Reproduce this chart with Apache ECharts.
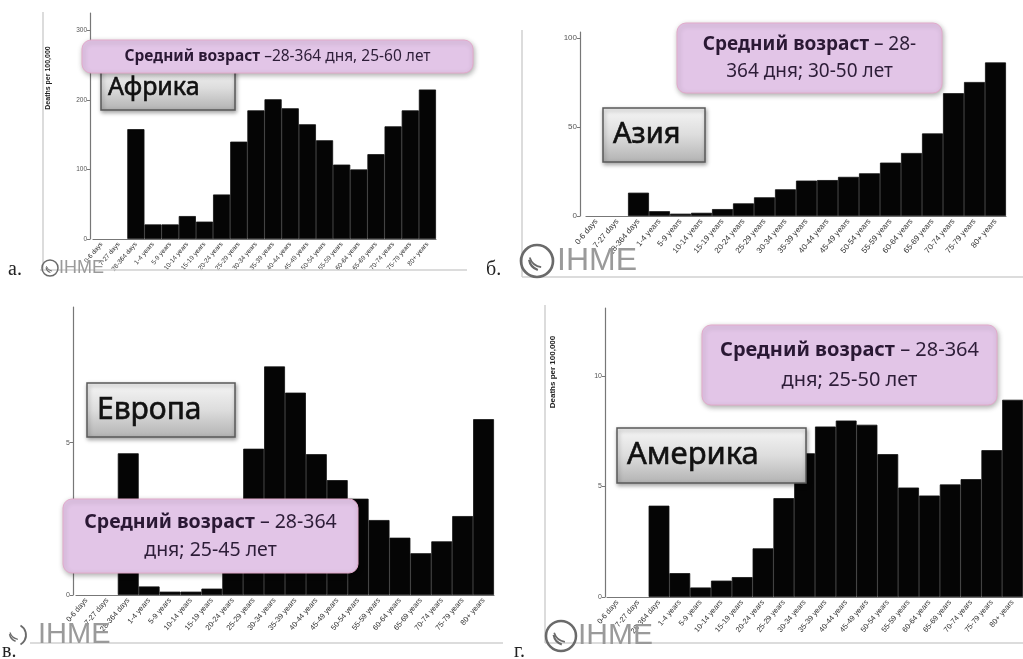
<!DOCTYPE html>
<html>
<head>
<meta charset="utf-8">
<script src="https://cdn.jsdelivr.net/npm/echarts@6/dist/echarts.min.js"></script>
<style>
html, body { margin: 0; padding: 0; background: #fff; }
#chart { width: 1023px; height: 659px; }
</style>
</head>
<body>
<div id="chart"></div>
<script>
// age groups shared by all four panels
const ageGroups = ['0-6 days', '7-27 days', '28-364 days', '1-4 years', '5-9 years', '10-14 years',
    '15-19 years', '20-24 years', '25-29 years', '30-34 years', '35-39 years', '40-44 years',
    '45-49 years', '50-54 years', '55-59 years', '60-64 years', '65-69 years', '70-74 years',
    '75-79 years', '80+ years']

// deaths per 100,000
const africa = [0, 0, 158, 21, 21, 33, 25, 64, 140, 185, 201, 188, 165, 142, 107, 100, 122, 162, 185, 215]
const asia = [0, 0, 13.1, 2.7, 1.3, 1.8, 3.9, 7.1, 10.5, 15, 19.9, 20.2, 22, 24, 30, 35.4, 46.4, 69, 75.3, 86.3]
const europe = [0, 0, 4.65, 0.28, 0.11, 0.11, 0.21, 1.5, 4.8, 7.5, 6.64, 4.62, 3.77, 3.16, 2.46, 1.88, 1.37, 1.76, 2.59, 5.77]
const america = [0, 0, 4.13, 1.08, 0.43, 0.74, 0.9, 2.2, 4.47, 6.5, 7.71, 7.98, 7.79, 6.46, 4.95, 4.59, 5.09, 5.33, 6.64, 8.92]

// y tick labels per panel
const africaTicks = [0, 100, 200, 300]
const asiaTicks = [0, 50, 100]
const europeTicks = [0, 5]
const americaTicks = [0, 5, 10]

const regionNames = ['Африка', 'Азия', 'Европа', 'Америка']
const noteTexts = [
    '{b|Средний возраст} –28-364 дня, 25-60 лет',
    '{b|Средний возраст} – 28-\n364 дня; 30-50 лет',
    '{b|Средний возраст} – 28-364\nдня; 25-45 лет',
    '{b|Средний возраст} – 28-364\nдня; 25-50 лет',
]
const panelLetters = ['а.', 'б.', 'в.', 'г.']
const yName = 'Deaths per 100,000'

const SANS = '"Noto Sans", "DejaVu Sans", sans-serif'

function xAxisFor(gridIndex, fontSize) {
    return {
        type: 'category',
        gridIndex: gridIndex,
        data: ageGroups,
        axisLine: { lineStyle: { color: '#777', width: 1.2 } },
        axisTick: { interval: 0, length: 3, lineStyle: { color: '#777' } },
        axisLabel: {
            interval: 0,
            rotate: 50,
            margin: 4,
            fontSize: fontSize,
            color: '#333',
            fontFamily: 'Liberation Sans',
        },
    }
}

function yAxisFor(gridIndex, max, ticks, fontSize, offset) {
    return {
        type: 'value',
        gridIndex: gridIndex,
        min: 0,
        max: max,
        offset: offset,
        splitLine: { show: false },
        axisLine: { show: true, lineStyle: { color: '#777', width: 1.2 } },
        axisTick: { show: true, length: 3, customValues: ticks, lineStyle: { color: '#777' } },
        axisLabel: { customValues: ticks, fontSize: fontSize, color: '#555', margin: 3, fontFamily: 'Liberation Sans' },
    }
}

function barSeries(index, data) {
    return {
        type: 'bar',
        xAxisIndex: index,
        yAxisIndex: index,
        // no outline on empty age groups
        data: data.map((v) => (v === 0 ? { value: v, itemStyle: { borderWidth: 0 } } : v)),
        barCategoryGap: '0%',
        itemStyle: { color: '#050505', borderColor: '#111', borderWidth: 0.8 },
        silent: true,
    }
}

function frameLine(x1, y1, x2, y2) {
    return {
        type: 'line',
        z: 1,
        shape: { x1: x1, y1: y1, x2: x2, y2: y2 },
        style: { stroke: '#d0d0d0', lineWidth: 1.5 },
    }
}

function noteBox(x, y, w, h, text, fontSize, lineHeight) {
    return [
        {
            type: 'rect',
            z: 110,
            shape: { x: x, y: y, width: w, height: h, r: 9 },
            style: {
                fill: '#e2c5e7',
                stroke: '#e3aacb',
                lineWidth: 1,
                shadowBlur: 5,
                shadowColor: 'rgba(0,0,0,0.3)',
                shadowOffsetX: 1,
                shadowOffsetY: 2,
            },
        },
        {
            type: 'text',
            z: 111,
            x: x + w / 2,
            y: y + h / 2,
            style: {
                text: text,
                align: 'center',
                verticalAlign: 'middle',
                fontFamily: SANS,
                fontSize: fontSize,
                lineHeight: lineHeight,
                fill: '#2d1d38',
                rich: {
                    b: { fontWeight: 'bold', fontFamily: SANS, fontSize: fontSize, lineHeight: lineHeight, fill: '#2a1834' },
                },
            },
        },
    ]
}

function regionBox(x, y, w, h, textX, text, fontSize) {
    return [
        {
            type: 'rect',
            z: 105,
            shape: { x: x, y: y, width: w, height: h },
            style: {
                fill: {
                    type: 'linear', x: 0, y: 0, x2: 0, y2: 1,
                    colorStops: [
                        { offset: 0, color: '#f6f6f6' },
                        { offset: 0.5, color: '#dddddd' },
                        { offset: 1, color: '#b2b2b2' },
                    ],
                },
                stroke: '#5a5a5a',
                lineWidth: 1.5,
                shadowBlur: 4,
                shadowColor: 'rgba(0,0,0,0.35)',
                shadowOffsetX: 1,
                shadowOffsetY: 2,
            },
        },
        {
            type: 'text',
            z: 106,
            x: textX,
            y: y + h / 2,
            style: {
                text: text,
                verticalAlign: 'middle',
                fontFamily: SANS,
                fontSize: fontSize,
                fill: '#111',
                stroke: '#111',
                lineWidth: 0.6,
            },
        },
    ]
}

function logo(cx, cy, r, textX, fontSize, startAngle, endAngle) {
    return [
        {
            type: 'arc',
            z: 2,
            shape: { cx: cx, cy: cy, r: r, startAngle: startAngle, endAngle: endAngle },
            style: { stroke: '#6a6a6a', lineWidth: Math.max(1.5, r / 6), fill: null },
        },
        {
            type: 'arc',
            z: 2,
            shape: { cx: cx + r * 0.3, cy: cy - r * 0.2, r: r * 0.8, startAngle: Math.PI * 0.6, endAngle: Math.PI * 0.95 },
            style: { stroke: '#6a6a6a', lineWidth: Math.max(1.2, r / 7), fill: null },
        },
        {
            type: 'arc',
            z: 2,
            shape: { cx: cx + r * 0.4, cy: cy - r * 0.5, r: r * 0.9, startAngle: Math.PI * 0.55, endAngle: Math.PI * 0.9 },
            style: { stroke: '#6a6a6a', lineWidth: Math.max(1, r / 9), fill: null },
        },
        {
            type: 'text',
            z: 2,
            x: textX,
            y: cy,
            style: {
                text: 'IHME',
                verticalAlign: 'middle',
                fontFamily: 'Liberation Sans',
                fontSize: fontSize,
                fill: '#9a9a9a',
            },
        },
    ]
}

function panelLetter(x, y, text) {
    return {
        type: 'text',
        z: 2,
        x: x,
        y: y,
        style: { text: text, verticalAlign: 'bottom', fontFamily: 'Liberation Serif', fontSize: 20, fill: '#222' },
    }
}

function axisName(x, y, fontSize) {
    return {
        type: 'text',
        z: 2,
        x: x,
        y: y,
        rotation: Math.PI / 2,
        style: {
            text: yName,
            align: 'center',
            verticalAlign: 'middle',
            fontFamily: 'Liberation Sans',
            fontWeight: 'bold',
            fontSize: fontSize,
            fill: '#222',
        },
    }
}

let chart = echarts.init(document.getElementById('chart'))

let graphics = [].concat(
    // frames of the four pictures
    frameLine(43, 12, 43, 270), frameLine(40, 270, 467, 270),
    frameLine(522, 30, 522, 277), frameLine(522, 277, 1023, 277),
    frameLine(30, 643, 503, 643),
    frameLine(545, 305, 545, 643), frameLine(545, 643, 1023, 643),
    // logos
    logo(50, 268, 8, 59, 18, 0, Math.PI * 2),
    logo(537, 261, 16, 557, 32, 0, Math.PI * 2),
    logo(15, 635, 11, 38, 29, -Math.PI / 3, Math.PI / 3),
    logo(561, 636, 15, 578, 30, 0, Math.PI * 2),
    // panel letters
    panelLetter(8, 280, panelLetters[0]),
    panelLetter(486, 280, panelLetters[1]),
    panelLetter(2, 662, panelLetters[2]),
    panelLetter(514, 662, panelLetters[3]),
    // y axis names
    axisName(48, 78, 7),
    axisName(553, 372, 8),
    // region boxes
    regionBox(101, 66, 134, 44, 108, regionNames[0], 25),
    regionBox(603, 108, 102, 54, 613, regionNames[1], 29),
    regionBox(87, 383, 148, 54, 97, regionNames[2], 30),
    regionBox(617, 428, 189, 55, 627, regionNames[3], 31),
    // notes
    noteBox(82, 40, 391, 33, noteTexts[0], 15.5, 18),
    noteBox(677, 23, 265, 70, noteTexts[1], 19, 27),
    noteBox(63, 499, 295, 74, noteTexts[2], 19.5, 28),
    noteBox(702, 325, 295, 80, noteTexts[3], 20, 30)
)

let options = {
    animation: false,
    backgroundColor: '#fff',
    grid: [
        { left: 93, top: 13, width: 343, height: 226 },
        { left: 586, top: 32, width: 420, height: 184 },
        { left: 76, top: 307, width: 418, height: 288 },
        { left: 607, top: 308, width: 422, height: 289 },
    ],
    xAxis: [
        xAxisFor(0, 6.5),
        xAxisFor(1, 8),
        xAxisFor(2, 7.5),
        xAxisFor(3, 7.5),
    ],
    yAxis: [
        yAxisFor(0, 325, africaTicks, 6.5, 3),
        yAxisFor(1, 103.4, asiaTicks, 8, 6),
        yAxisFor(2, 9.45, europeTicks, 7, 3),
        yAxisFor(3, 13.07, americaTicks, 7, 2),
    ],
    series: [
        barSeries(0, africa),
        barSeries(1, asia),
        barSeries(2, europe),
        barSeries(3, america),
    ],
    graphic: graphics,
}
chart.setOption(options)
</script>
</body>
</html>
